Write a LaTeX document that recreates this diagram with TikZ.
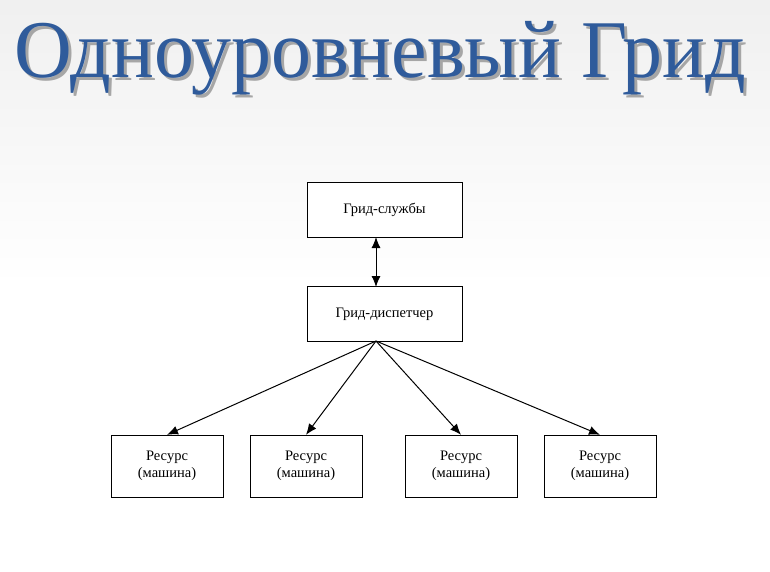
\documentclass[tikz,border=0pt]{standalone}
\usepackage{fontspec}
\setmainfont{Liberation Serif}
\usetikzlibrary{arrows.meta}
\definecolor{titleblue}{HTML}{2F5B9B}
\begin{document}
\begin{tikzpicture}[
x=1pt,
y=-1pt,
box/.style={%
draw,
thin,
fill=white,
align=center,
font=\fontsize{14.5}{17}\selectfont,
},
res/.style={%
box,
minimum width=112pt,
minimum height=62pt,
},
svc/.style={%
box,
minimum width=155pt,
minimum height=55pt,
},
tip/.style={%
arrows=-{Latex[length=11pt,width=9pt]},
},
link/.style={%
tip,
line width=1pt,
}
]
%% Background
\shade[top color=black!6, bottom color=white, middle color=white]
  (0,0) rectangle (770,571);
%% Title
\node[text=black!35, font=\fontsize{82}{82}\selectfont, xscale=0.975]at(383,61){Одноуровневый Грид};
\node[text=titleblue, font=\fontsize{82}{82}\selectfont, xscale=0.975](title)at(380,58){Одноуровневый Грид};
%% Services
\node[svc]at(384.5,209.5)(services){Грид-службы};
\node[svc]at(384.5,314)(dispatcher){Грид-диспетчер};
\draw[line width=1pt, arrows={Latex[length=11pt,width=9pt]}-{Latex[length=11pt,width=9pt]}]
  (376,237)--(376,287);
%% Resources
\coordinate(apex)at(376,341);
\foreach \x/\n in {167/1,306/2,461/3,600/4}{%
\node[res]at(\x,466)(r_\n){Ресурс\\(машина)};
\draw[link](apex)--(r_\n.north);
}
\end{tikzpicture}
\end{document}
